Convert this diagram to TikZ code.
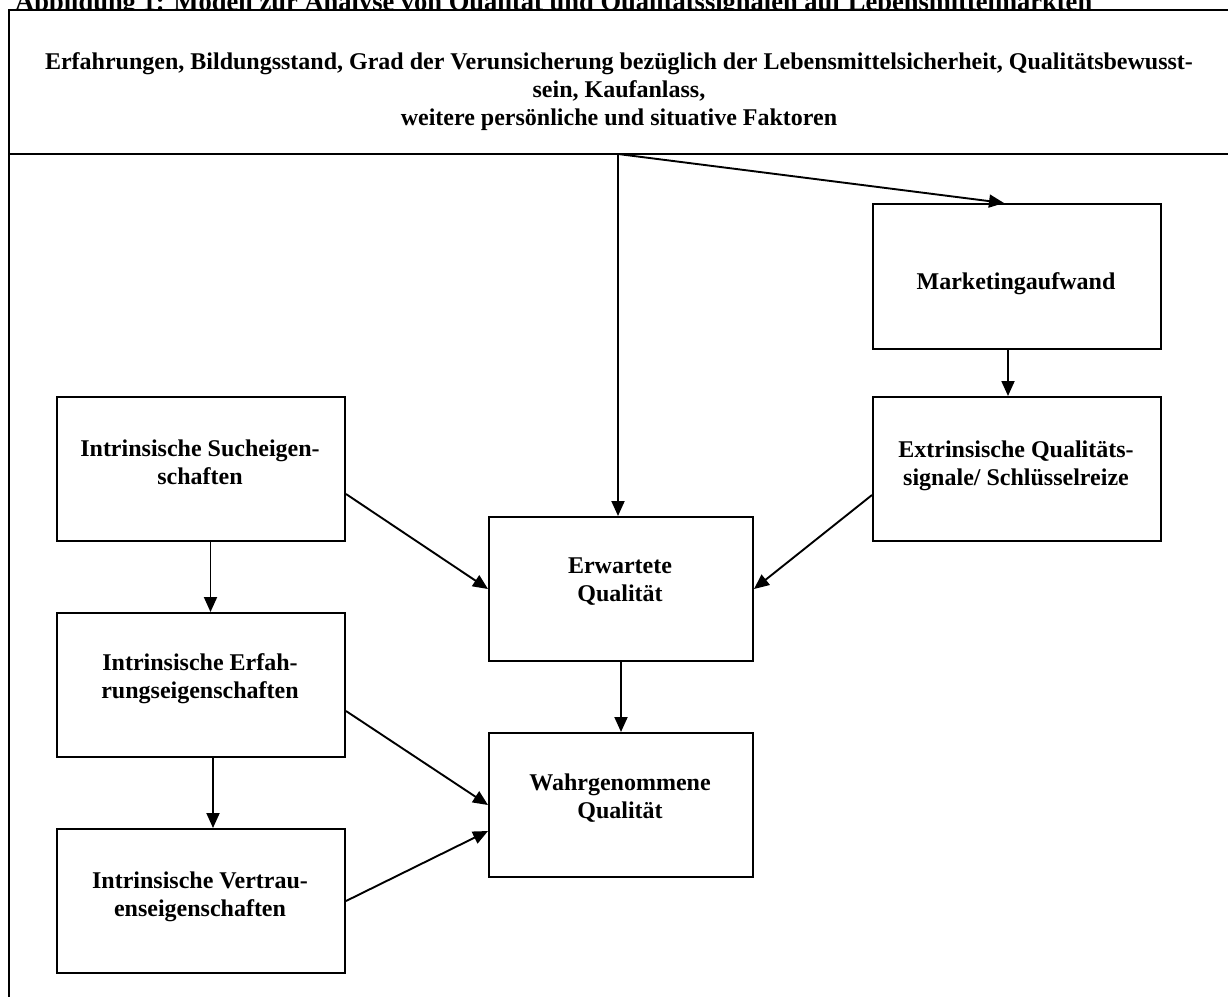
\documentclass[tikz,border=0pt]{standalone}
\usepackage{fontspec}
\setmainfont{Liberation Serif}
\usetikzlibrary{arrows.meta}
\begin{document}
\begin{tikzpicture}[x=1pt,y=-1pt,
  frame/.style={draw,line width=2pt,fill=white,anchor=north west,inner sep=0pt},
  box/.style={draw,line width=2pt,anchor=north west,inner sep=0pt,minimum height=144pt},
  txt/.style={font=\fontsize{24}{28}\selectfont\bfseries,align=center,inner sep=0pt},
  arr/.style={line width=1.9pt,-{Triangle[length=15pt,width=13pt]}}]
\useasboundingbox (0,0) rectangle (1228,996);
\clip (0,0) rectangle (1228,996);
% title (partly hidden)
\node[txt,font=\fontsize{26.5}{30}\selectfont\bfseries,anchor=base west] (title) at (15,10) {Abbildung 1: Modell zur Analyse von Qualität und Qualitätssignalen auf Lebensmittelmärkten};
% frames
\node[frame,minimum width=1260pt,minimum height=144pt] (head) at (8,9) {};
\node[frame,minimum width=1260pt,minimum height=900pt] (main) at (8,153) {};
\node[txt] (headtxt) at (619,92) {Erfahrungen, Bildungsstand, Grad der Verunsicherung bezüglich der Lebensmittelsicherheit, Qualitätsbewusst-\\sein, Kaufanlass,\\weitere persönliche und situative Faktoren};
% boxes
\node[box,minimum width=288pt] (such) at (56,396) {};
\node[box,minimum width=288pt] (erf) at (56,612) {};
\node[box,minimum width=288pt] (vert) at (56,828) {};
\node[box,minimum width=264pt] (erw) at (488,516) {};
\node[box,minimum width=264pt] (wahr) at (488,732) {};
\node[box,minimum width=288pt,minimum height=145pt] (mark) at (872,203) {};
\node[box,minimum width=288pt] (extr) at (872,396) {};
% texts
\node[txt] (suchtxt) at (200,462) {Intrinsische Sucheigen-\\schaften};
\node[txt] (erftxt) at (200,679) {Intrinsische Erfah-\\rungseigenschaften};
\node[txt] (verttxt) at (200,897) {Intrinsische Vertrau-\\enseigenschaften};
\node[txt] (erwtxt) at (620,582) {Erwartete\\Qualität};
\node[txt] (wahrtxt) at (620,798) {Wahrgenommene\\Qualität};
\node[txt] (marktxt) at (1016,284) {Marketingaufwand};
\node[txt] (extrtxt) at (1016,466) {Extrinsische Qualitäts-\\signale/ Schlüsselreize};
% connectors
\coordinate (src) at (618,154);
\draw[arr] (src) -- (src |- erw.north);
\draw[arr] (src) -- ([xshift=-13pt]mark.north);
\draw[arr] ([xshift=-9pt]mark.south) -- ([xshift=-9pt]extr.north);
\draw[arr] ([xshift=9.5pt]such.south) -- ([xshift=9.5pt]erf.north);
\draw[arr] ([xshift=12pt]erf.south) -- ([xshift=12pt]vert.north);
\draw[arr] (erw.south) -- (wahr.north);
\draw[arr] ([yshift=-25pt]such.east) -- (erw.west);
\draw[arr] ([yshift=-26pt]extr.west) -- (erw.east);
\draw[arr] ([yshift=-26pt]erf.east) -- (wahr.west);
\draw[arr] (vert.east) -- ([yshift=-26pt]wahr.west);
\end{tikzpicture}
\end{document}
